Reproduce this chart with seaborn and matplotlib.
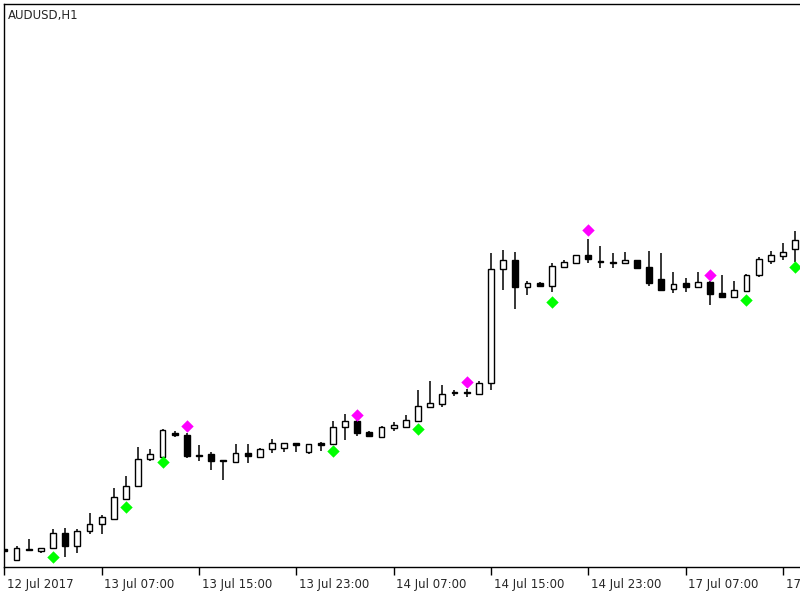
import matplotlib
matplotlib.use('Agg')
import matplotlib.pyplot as plt
import matplotlib.transforms as mtransforms
import numpy as np
import pandas as pd
import seaborn as sns

# AUDUSD H1 bars, 12 Jul 23:00 .. 17 Jul 18:00
opens = [0.76507, 0.76430, 0.76507, 0.76493, 0.76514, 0.76619, 0.76528, 0.76633, 0.76682, 0.76717,
         0.76857, 0.76948, 0.77137, 0.77151, 0.77319, 0.77305, 0.77165, 0.77172, 0.77130, 0.77116,
         0.77179, 0.77151, 0.77207, 0.77214, 0.77249, 0.77186, 0.77249, 0.77242, 0.77361, 0.77403,
         0.77326, 0.77291, 0.77354, 0.77361, 0.77403, 0.77501, 0.77522, 0.77606, 0.77606, 0.77592,
         0.77669, 0.78467, 0.78530, 0.78341, 0.78369, 0.78348, 0.78481, 0.78509, 0.78565, 0.78523,
         0.78516, 0.78509, 0.78530, 0.78481, 0.78397, 0.78327, 0.78369, 0.78341, 0.78376, 0.78299,
         0.78271, 0.78313, 0.78425, 0.78523, 0.78558, 0.78607]
highs = [0.76514, 0.76528, 0.76577, 0.76514, 0.76647, 0.76654, 0.76647, 0.76759, 0.76745, 0.76934,
         0.77018, 0.77221, 0.77207, 0.77347, 0.77333, 0.77319, 0.77235, 0.77186, 0.77130, 0.77242,
         0.77242, 0.77214, 0.77277, 0.77249, 0.77249, 0.77242, 0.77256, 0.77403, 0.77452, 0.77410,
         0.77333, 0.77368, 0.77396, 0.77445, 0.77620, 0.77683, 0.77655, 0.77620, 0.77627, 0.77683,
         0.78579, 0.78600, 0.78586, 0.78383, 0.78376, 0.78509, 0.78530, 0.78565, 0.78677, 0.78628,
         0.78579, 0.78586, 0.78530, 0.78593, 0.78579, 0.78446, 0.78404, 0.78446, 0.78383, 0.78425,
         0.78383, 0.78432, 0.78551, 0.78593, 0.78649, 0.78733]
lows = [0.76486, 0.76430, 0.76493, 0.76479, 0.76507, 0.76451, 0.76479, 0.76612, 0.76612, 0.76717,
        0.76850, 0.76941, 0.77123, 0.77144, 0.77291, 0.77144, 0.77123, 0.77060, 0.76990, 0.77109,
        0.77109, 0.77144, 0.77179, 0.77186, 0.77186, 0.77172, 0.77193, 0.77235, 0.77270, 0.77298,
        0.77291, 0.77284, 0.77333, 0.77354, 0.77396, 0.77501, 0.77501, 0.77578, 0.77571, 0.77585,
        0.77620, 0.78320, 0.78187, 0.78285, 0.78341, 0.78306, 0.78481, 0.78502, 0.78509, 0.78474,
        0.78474, 0.78509, 0.78474, 0.78348, 0.78313, 0.78299, 0.78306, 0.78341, 0.78215, 0.78271,
        0.78264, 0.78306, 0.78411, 0.78502, 0.78530, 0.78516]
closes = [0.76493, 0.76514, 0.76500, 0.76514, 0.76619, 0.76528, 0.76633, 0.76682, 0.76731, 0.76871,
          0.76948, 0.77137, 0.77172, 0.77340, 0.77305, 0.77158, 0.77158, 0.77123, 0.77123, 0.77179,
          0.77158, 0.77207, 0.77249, 0.77249, 0.77235, 0.77242, 0.77235, 0.77361, 0.77403, 0.77319,
          0.77298, 0.77361, 0.77375, 0.77410, 0.77508, 0.77529, 0.77592, 0.77599, 0.77599, 0.77669,
          0.78467, 0.78530, 0.78341, 0.78369, 0.78348, 0.78488, 0.78516, 0.78565, 0.78537, 0.78516,
          0.78509, 0.78530, 0.78474, 0.78369, 0.78320, 0.78362, 0.78341, 0.78376, 0.78292, 0.78271,
          0.78320, 0.78425, 0.78537, 0.78565, 0.78586, 0.78670]

# indicator signals (bar index, price)
buy_bars = [4, 10, 13, 27, 34, 45, 61, 65]
buy_prices = [0.76451, 0.76801, 0.77116, 0.77193, 0.77347, 0.78236, 0.78250, 0.78481]
sell_bars = [15, 29, 38, 48, 58]
sell_prices = [0.77368, 0.77445, 0.77676, 0.78740, 0.78425]

tick_bars = [0, 8, 16, 24, 32, 40, 48, 56, 64]
tick_labels = ['12 Jul 2017', '13 Jul 07:00', '13 Jul 15:00', '13 Jul 23:00', '14 Jul 07:00',
               '14 Jul 15:00', '14 Jul 23:00', '17 Jul 07:00', '17 Jul 15:00']

df = pd.DataFrame({'open': opens, 'high': highs, 'low': lows, 'close': closes})
df['bar'] = np.arange(len(df))
df['up'] = df['close'] >= df['open']

sns.set_style('white')
plt.rcParams['font.family'] = ['DejaVu Sans']

fig = plt.figure(figsize=(8, 6), dpi=100)
ax = fig.add_axes([4 / 800, 1 - 567 / 600, 796 / 800, 563 / 600])

# wicks
ax.vlines(df['bar'], df['low'], df['high'], color='black', linewidth=1.1, zorder=1)

# bodies
bottoms = df[['open', 'close']].min(axis=1)
heights = (df['close'] - df['open']).abs()
faces = np.where(df['up'], 'white', 'black')
ax.bar(df['bar'], heights, bottom=bottoms, width=0.48, color=faces,
       edgecolor='black', linewidth=1.0, zorder=2)

# signal diamonds
sns.scatterplot(x=buy_bars, y=buy_prices, marker='D', color='#00ff00', s=40,
                linewidth=0, ax=ax, zorder=3)
sns.scatterplot(x=sell_bars, y=sell_prices, marker='D', color='#ff00ff', s=40,
                linewidth=0, ax=ax, zorder=3)

ax.set_xlim(-0.03, 65.4)
ax.set_ylim(0.76381, 0.80322)
ax.set_yticks([])
ax.set_xticks(tick_bars)
ax.set_xticklabels(tick_labels, fontsize=8.5)
ax.tick_params(axis='x', direction='out', length=6, width=1, color='black', pad=2,
               bottom=True)
offset = mtransforms.ScaledTranslation(2 / 72, 0, fig.dpi_scale_trans)
for lab in ax.get_xticklabels():
    lab.set_horizontalalignment('left')
    lab.set_transform(lab.get_transform() + offset)

for side in ['left', 'top', 'bottom']:
    ax.spines[side].set_color('black')
    ax.spines[side].set_linewidth(1)
ax.spines['right'].set_visible(False)
ax.set_xlabel('')
ax.set_ylabel('')

fig.text(8 / 800, 1 - 16 / 600, 'AUDUSD,H1', fontsize=8.5, va='center', ha='left')

fig.savefig('out.png', dpi=100, facecolor='white')
